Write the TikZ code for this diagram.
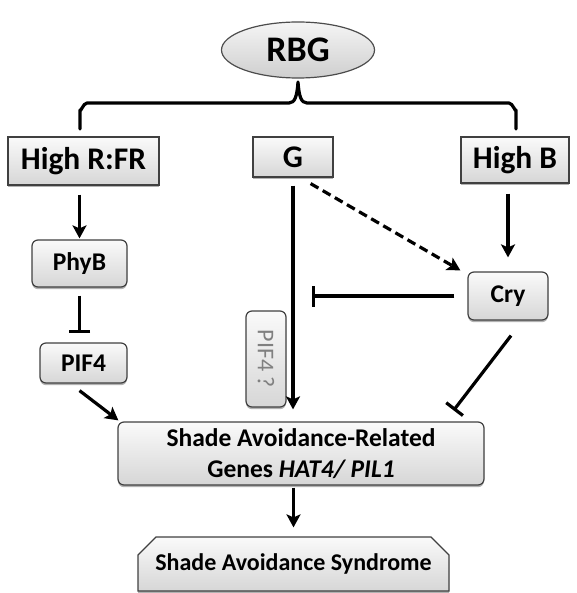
\documentclass[tikz,border=0pt]{standalone}
\usepackage{fontspec}
\setmainfont{Carlito}
\usetikzlibrary{arrows.meta,shapes.geometric,shapes.misc,shadows,calc}
\tikzset{
  boxbase/.style={draw=black!75, line width=1.2pt, top color=gray!4, bottom color=gray!32,
    inner sep=0pt, align=center, font=\bfseries,
    drop shadow={shadow xshift=0pt, shadow yshift=-2.2pt, fill=black!55, opacity=.55}},
  sqbox/.style={boxbase, rectangle},
  rbox/.style={boxbase, rectangle, rounded corners=6pt},
  arr/.style={line width=3.2pt, -{Stealth[length=13pt,width=14pt,inset=3pt]}},
  inh/.style={line width=3.2pt, -{Bar[width=21pt,line width=3.2pt]}},
  dasharr/.style={arr, dash pattern=on 9pt off 5pt},
  bracel/.style={line width=3.2pt, line cap=round, line join=round}
}
\begin{document}
\begin{tikzpicture}[x=1pt,y=-1pt]
\useasboundingbox (0,0) rectangle (576,593);
% RBG ellipse
\node[ellipse, draw=black!70, line width=1.2pt, top color=gray!8, bottom color=gray!38,
  minimum width=153pt, minimum height=56pt, inner sep=0pt,
  font=\fontsize{36}{40}\selectfont\bfseries] (rbg) at (298,50) {RBG};
% top level boxes
\node[sqbox, minimum width=151pt, minimum height=48pt, font=\fontsize{31.5}{34}\selectfont\bfseries] (hrfr) at (83.5,161) {High R:FR};
\node[sqbox, minimum width=80pt, minimum height=40pt, font=\fontsize{31.5}{34}\selectfont\bfseries] (g) at (293,157) {G};
\node[sqbox, minimum width=108pt, minimum height=46pt, font=\fontsize{31.5}{34}\selectfont\bfseries] (hb) at (515,160) {High B};
% middle boxes
\node[rbox, minimum width=95pt, minimum height=47pt, font=\fontsize{25.5}{28}\selectfont\bfseries] (phyb) at (79.5,263.5) {PhyB};
\node[rbox, minimum width=87pt, minimum height=40pt, font=\fontsize{25.5}{28}\selectfont\bfseries] (pif4) at (83.5,363) {PIF4};
\node[rbox, minimum width=80pt, minimum height=48pt, font=\fontsize{25.5}{28}\selectfont\bfseries] (cry) at (508,296) {Cry};
\node[rbox, rotate=-90, minimum width=96pt, minimum height=40pt, text=black!50,
  font=\fontsize{24}{28}\selectfont] (pif4q) at (266,359) {PIF4 ?};
% bottom boxes
\node[rbox, minimum width=366pt, minimum height=63pt, font=\fontsize{25.5}{31}\selectfont\bfseries] (sarg) at (301,453.5)
  {Shade Avoidance-Related\\Genes \textit{HAT4/ PIL1}};
\node[boxbase, chamfered rectangle, chamfered rectangle corners={north west,north east},
  chamfered rectangle xsep=9pt, chamfered rectangle ysep=9pt,
  minimum width=311pt, minimum height=54pt, font=\fontsize{24}{28}\selectfont\bfseries] (sas) at (293.5,564) {Shade Avoidance Syndrome};
% brace
\coordinate (bl) at (80,129);
\coordinate (pl) at (289,103);
\coordinate (pk) at (298,82);
\coordinate (pr) at (307,103);
\coordinate (br) at (516,129);
\draw[bracel] (bl) -- (80,110) to[out=-90,in=180] (87,103) -- (pl)
  .. controls (295,103) and (297,96) .. (pk)
  .. controls (299,96) and (301,103) .. (pr) -- (509,103) to[out=0,in=-90] (516,110) -- (br);
% connectors
\draw[arr] ([yshift=-9pt]phyb.north |- hrfr.south) -- ([yshift=1pt]phyb.north);
\draw[inh] ([yshift=-8pt]phyb.south) -- ([yshift=9pt]phyb.south |- pif4.north);
\draw[arr] ([shift={(-4pt,-7pt)}]pif4.south) -- ([shift={(1pt,1pt)}]sarg.north west);
\draw[arr] ([yshift=-8pt]g.south) -- ([yshift=12pt]g.south |- sarg.north);
\draw[dasharr] ([shift={(-23pt,-6pt)}]g.south east) -- ([shift={(-7pt,1pt)}]cry.north west);
\draw[arr] ([yshift=-10pt]cry.north |- hb.south) -- ([yshift=14pt]cry.north);
\draw[inh] ([xshift=-13pt]cry.west) -- ([xshift=19pt]cry.west -| g.south);
\draw[inh] ([shift={(3pt,-15pt)}]cry.south) -- ([shift={(-31pt,11pt)}]sarg.north east);
\draw[arr] ([yshift=-2pt]sas.north |- sarg.south) -- ([yshift=9pt]sas.north);
\end{tikzpicture}
\end{document}
